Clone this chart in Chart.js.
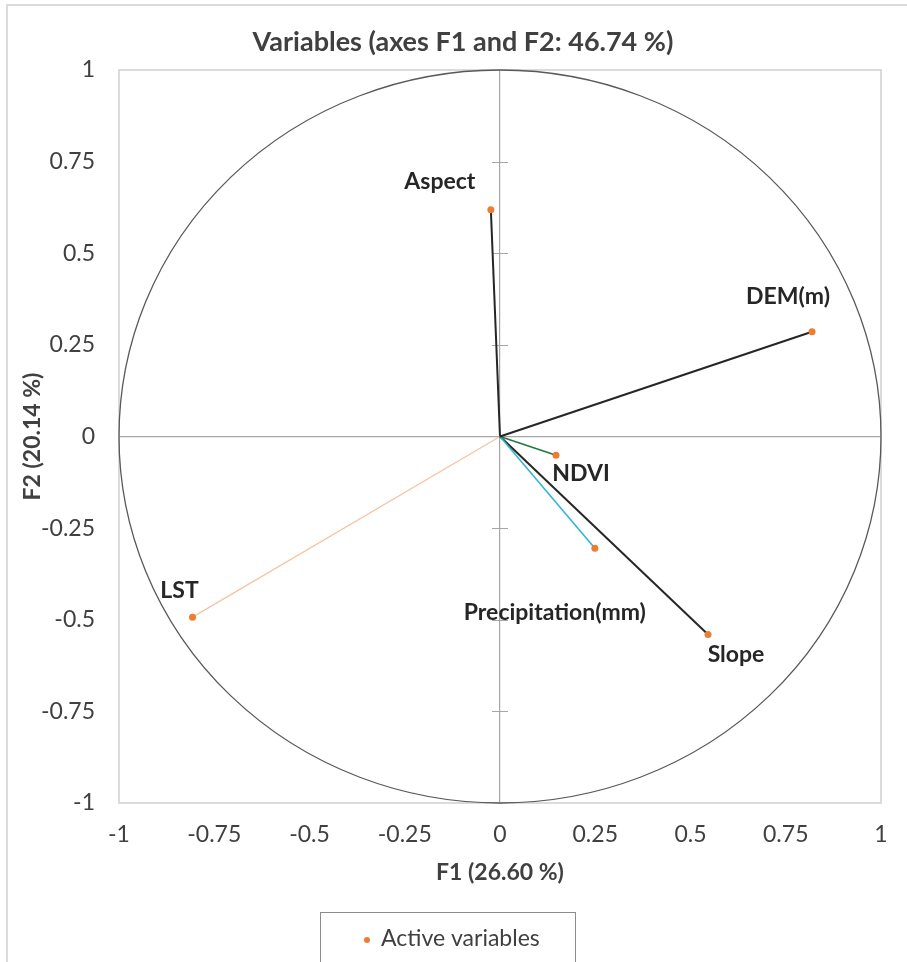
<!DOCTYPE html>
<html>
<head>
<meta charset="utf-8">
<script src="https://cdn.jsdelivr.net/npm/chart.js@4/dist/chart.umd.min.js"></script>
<style>
  html, body { margin: 0; padding: 0; background: #fff; }
  #pcaChart { display: block; }
</style>
</head>
<body>
<canvas id="pcaChart" width="907" height="962"></canvas>
<script>
'use strict';

// correlation circle data
const variableNames = ['Aspect', 'DEM(m)', 'NDVI', 'Precipitation(mm)', 'Slope', 'LST'];
const f1Values = [-0.024, 0.819, 0.147, 0.249, 0.546, -0.807];
const f2Values = [0.619, 0.286, -0.051, -0.305, -0.540, -0.493];
const axisTicks = [-1, -0.75, -0.5, -0.25, 0, 0.25, 0.5, 0.75, 1];

const chartTitle = 'Variables (axes F1 and F2: 46.74 %)';
const xTitle = 'F1 (26.60 %)';
const yTitle = 'F2 (20.14 %)';
const legendLabel = 'Active variables';

const vectorColors = ['#262626', '#262626', '#1f7a45', '#35b4d6', '#262626', '#f6c4a2'];
const vectorWidths = [2, 2, 1.6, 1.6, 2, 1.3];
const pointColor = '#ed7d31';
// label centre offset from its point, px
const labelOffsets = [[-51, -28], [-24, -35], [25, 18], [-40, 64], [28, 20], [-13, -27]];

const fontName = 'Lato, "Open Sans", sans-serif';

function buildDatasets() {
    let sets = [{
        label: legendLabel,
        data: f1Values.map((x, i) => ({x: x, y: f2Values[i]})),
        backgroundColor: pointColor,
        borderWidth: 0,
        pointRadius: 3.5,
        showLine: false,
        order: 0
    }];
    variableNames.forEach(function (name, i) {
        sets.push({
            label: name,
            data: [{x: 0, y: 0}, {x: f1Values[i], y: f2Values[i]}],
            borderColor: vectorColors[i],
            borderWidth: vectorWidths[i],
            pointRadius: 0,
            showLine: true,
            order: 1
        });
    });
    return sets;
}

const decorPlugin = {
    id: 'decor',
    beforeDraw(chart) {
        const ctx = chart.ctx;
        ctx.save();
        ctx.fillStyle = '#fff';
        ctx.fillRect(0, 0, chart.width, chart.height);
        // outer frame
        ctx.strokeStyle = '#cfcfcf';
        ctx.lineWidth = 1.5;
        ctx.beginPath();
        ctx.moveTo(7, chart.height + 2);
        ctx.lineTo(7, 5);
        ctx.lineTo(chart.width + 2, 5);
        ctx.stroke();
        // title
        ctx.fillStyle = '#404040';
        ctx.font = 'bold 27px ' + fontName;
        ctx.textAlign = 'center';
        ctx.textBaseline = 'middle';
        ctx.fillText(chartTitle, 463, 42);
        ctx.restore();
    },
    beforeDatasetsDraw(chart) {
        const {ctx, chartArea, scales} = chart;
        const xs = scales.x, ys = scales.y;
        const x0 = xs.getPixelForValue(0), y0 = ys.getPixelForValue(0);
        ctx.save();
        // plot border
        ctx.strokeStyle = '#d0d0d0';
        ctx.lineWidth = 1.5;
        ctx.strokeRect(chartArea.left, chartArea.top, chartArea.right - chartArea.left, chartArea.bottom - chartArea.top);
        // tick marks on the vertical axis
        ctx.strokeStyle = '#a6a6a6';
        ctx.lineWidth = 1;
        axisTicks.forEach(function (v) {
            if (v === 0 || Math.abs(v) === 1) return;
            const py = Math.round(ys.getPixelForValue(v)) + 0.5;
            ctx.beginPath();
            ctx.moveTo(x0 - 8, py);
            ctx.lineTo(x0 + 8, py);
            ctx.stroke();
        });
        // unit circle
        const rx = xs.getPixelForValue(1) - x0;
        const ry = y0 - ys.getPixelForValue(1);
        ctx.strokeStyle = '#595959';
        ctx.lineWidth = 1.3;
        ctx.beginPath();
        ctx.ellipse(x0, y0, rx, ry, 0, 0, Math.PI * 2);
        ctx.stroke();
        ctx.restore();
    },
    afterDatasetsDraw(chart) {
        const {ctx, scales} = chart;
        ctx.save();
        ctx.fillStyle = '#262626';
        ctx.font = 'bold 23px ' + fontName;
        ctx.textAlign = 'center';
        ctx.textBaseline = 'middle';
        variableNames.forEach(function (name, i) {
            const px = scales.x.getPixelForValue(f1Values[i]);
            const py = scales.y.getPixelForValue(f2Values[i]);
            ctx.fillText(name, px + labelOffsets[i][0], py + labelOffsets[i][1]);
        });
        ctx.restore();
    },
    afterDraw(chart) {
        const ctx = chart.ctx;
        ctx.save();
        // legend box
        ctx.strokeStyle = '#8c8c8c';
        ctx.lineWidth = 1;
        ctx.strokeRect(320.5, 912.5, 255, 60);
        ctx.fillStyle = pointColor;
        ctx.beginPath();
        ctx.arc(367, 940, 3, 0, Math.PI * 2);
        ctx.fill();
        ctx.fillStyle = '#404040';
        ctx.font = '23px ' + fontName;
        ctx.textAlign = 'left';
        ctx.textBaseline = 'middle';
        ctx.fillText(legendLabel, 381, 939);
        ctx.restore();
    }
};

function axisOptions(title, isX) {
    return {
        type: 'linear',
        min: -1,
        max: 1,
        afterBuildTicks: function (scale) {
            scale.ticks = axisTicks.map(v => ({value: v}));
        },
        afterFit: function (scale) {
            if (isX) {
                scale.height = 83;
            } else {
                scale.width = 112;
            }
        },
        grid: {
            drawTicks: false,
            color: c => (c.tick && c.tick.value === 0) ? '#a6a6a6' : 'rgba(0,0,0,0)',
            lineWidth: 1.2
        },
        border: {display: false},
        ticks: {
            padding: isX ? 18 : 24,
            color: '#404040',
            font: {family: fontName, size: 23},
            callback: v => String(Math.round(v * 100) / 100)
        },
        title: {
            display: true,
            text: title,
            color: '#404040',
            font: {family: fontName, size: 23, weight: 'bold'},
            padding: isX ? {top: 6, bottom: 0} : {top: 12, bottom: 0}
        }
    };
}

new Chart('pcaChart', {
    type: 'scatter',
    data: {datasets: buildDatasets()},
    options: {
        responsive: false,
        animation: false,
        layout: {padding: {left: 7, top: 70, right: 26, bottom: 76}},
        plugins: {
            legend: {display: false},
            tooltip: {enabled: false}
        },
        scales: {
            x: axisOptions(xTitle, true),
            y: axisOptions(yTitle, false)
        }
    },
    plugins: [decorPlugin]
});
</script>
</body>
</html>
